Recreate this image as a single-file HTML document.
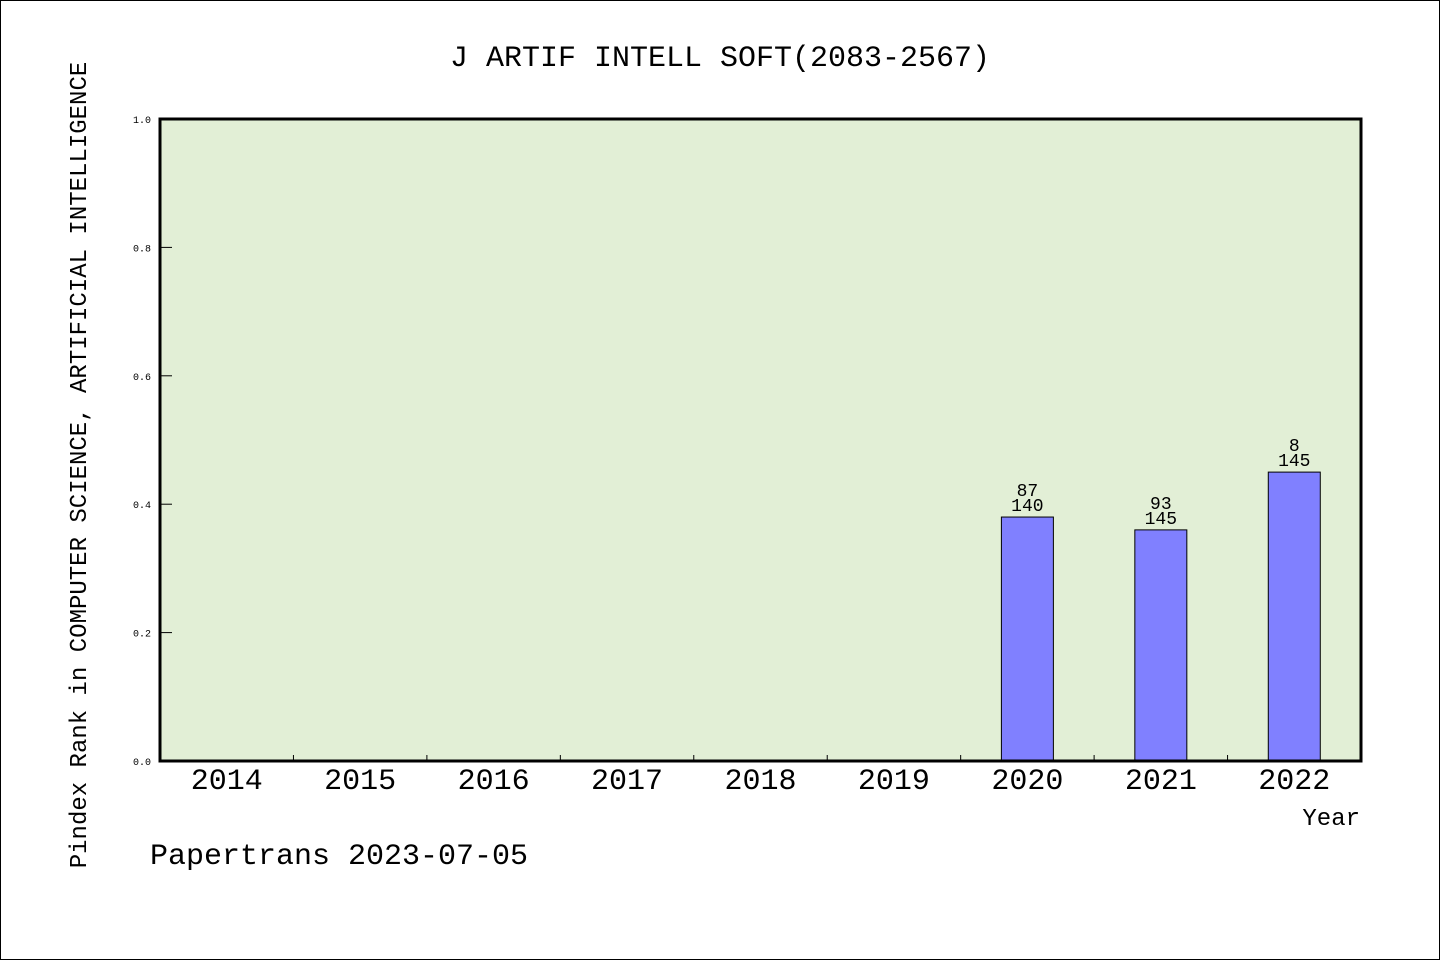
<!DOCTYPE html>
<html><head><meta charset="utf-8"><style>
html,body{margin:0;padding:0;background:#fff}
svg{display:block}
text{font-family:"WenQuanYi Zen Hei","Liberation Mono",monospace;fill:#000}
</style></head><body>
<svg id="chart" width="1440" height="960" xmlns="http://www.w3.org/2000/svg">
<rect x="0.5" y="0.5" width="1439" height="959" fill="#fff" stroke="#000"/>
<text x="720" y="66" font-size="30" text-anchor="middle">J ARTIF INTELL SOFT(2083-2567)</text>
<rect x="160" y="119" width="1201" height="642" fill="#e2efd6"/>
<g id="marks"></g>
<rect x="160" y="119" width="1201" height="642" fill="none" stroke="#000" stroke-width="3"/>
<text transform="translate(86,465) rotate(-90)" font-size="24" text-anchor="middle">Pindex Rank in COMPUTER SCIENCE, ARTIFICIAL INTELLIGENCE</text>
<text x="1360" y="825" font-size="24" text-anchor="end">Year</text>
<text x="150" y="864" font-size="30">Papertrans 2023-07-05</text>
</svg>
<script>
const categories=["2014","2015","2016","2017","2018","2019","2020","2021","2022"];
const values=[null,null,null,null,null,null,0.38,0.36,0.45];
const labelTop=[null,null,null,null,null,null,"87","93","8"];
const labelBottom=[null,null,null,null,null,null,"140","145","145"];
const yTicks=[0,0.2,0.4,0.6,0.8,1.0];
const X0=160,X1=1361,Y0=761,Y1=119;
const bw=(X1-X0)/categories.length;
const xc=i=>X0+bw*(i+0.5);
const y=v=>Y0-(v)*(Y0-Y1);
const NS="http://www.w3.org/2000/svg";
const g=document.getElementById('marks');
function mk(t,a){const e=document.createElementNS(NS,t);for(const k in a)e.setAttribute(k,a[k]);g.appendChild(e);return e;}
yTicks.forEach(v=>{
  const l=mk('line',{x1:X0,x2:X0+12,y1:y(v),y2:y(v),stroke:'#000','stroke-width':1});
  
  
  const t=mk('text',{x:151,y:y(v)+4,'font-size':10,'text-anchor':'end'});
  t.textContent=v.toFixed(1);
  
  
});
categories.forEach((c,i)=>{
  if(i>0){const l=mk('line',{x1:X0+bw*i,x2:X0+bw*i,y1:Y0,y2:Y0-6,stroke:'#000'});
  
  }
  const t=mk('text',{x:xc(i),y:789,'font-size':30,'text-anchor':'middle'});
  t.textContent=c;
  
  
  if(values[i]!=null){
    const b=mk('rect',{x:xc(i)-26,y:y(values[i]),width:52,height:Y0-y(values[i]),fill:'#8080ff',stroke:'#000','stroke-width':1});
    
    
    const t1=mk('text',{x:xc(i),y:y(values[i])-21,'font-size':18,'text-anchor':'middle'});
    t1.textContent=labelTop[i];
    
    
    const t2=mk('text',{x:xc(i),y:y(values[i])-6,'font-size':18,'text-anchor':'middle'});
    t2.textContent=labelBottom[i];
    
    
  }
});
</script>
</body></html>
